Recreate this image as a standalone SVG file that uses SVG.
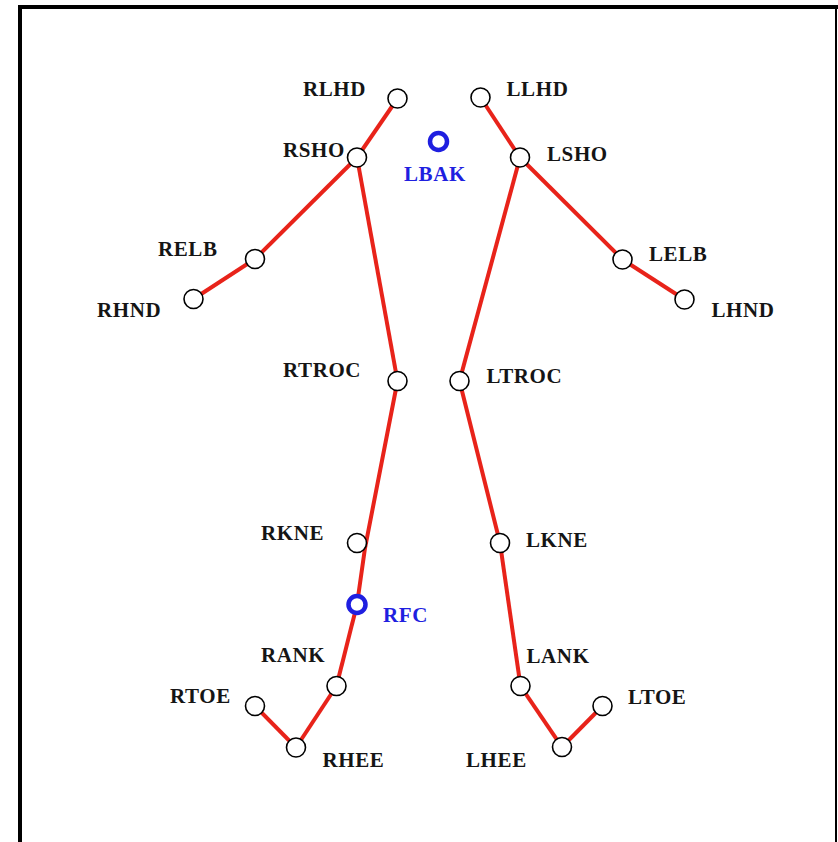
<svg xmlns="http://www.w3.org/2000/svg" width="838" height="842" viewBox="0 0 838 842">
<style>
.lbl{font-family:"Liberation Serif","Times New Roman",serif;font-weight:bold;font-size:21px;letter-spacing:0.6px;fill:#151515}
.blue{fill:#1f1fe0}
.j{fill:#fff;stroke:#000;stroke-width:1.6}
.m{fill:#fff;stroke:#1f1fe0;stroke-width:4.5}
.bone{stroke:#e8231a;stroke-width:4;stroke-linecap:butt;fill:none}
.frame{stroke:#000;fill:none}
</style>
<rect width="838" height="842" fill="#fff"/>
<g id="frame">
<line class="frame" x1="20" y1="7" x2="838" y2="7" stroke-width="4"/>
<line class="frame" x1="20" y1="5" x2="20" y2="842" stroke-width="4"/>
<line class="frame" x1="836" y1="7" x2="836" y2="842" stroke-width="2"/>
</g>
<g id="connectors">
<line class="bone" x1="397.5" y1="98.5" x2="357" y2="157.5"/>
<line class="bone" x1="357" y1="157.5" x2="255" y2="259"/>
<line class="bone" x1="255" y1="259" x2="193.5" y2="299"/>
<line class="bone" x1="357" y1="157.5" x2="397.5" y2="381"/>
<polyline class="bone" points="397.5,381 365,548 357,604.5"/>
<line class="bone" x1="357" y1="604.5" x2="336.5" y2="686"/>
<line class="bone" x1="336.5" y1="686" x2="296" y2="747.5"/>
<line class="bone" x1="296" y1="747.5" x2="255" y2="706"/>
<line class="bone" x1="480.5" y1="97.5" x2="520" y2="157.5"/>
<line class="bone" x1="520" y1="157.5" x2="622.5" y2="259.5"/>
<line class="bone" x1="622.5" y1="259.5" x2="684.5" y2="299.5"/>
<line class="bone" x1="520" y1="157.5" x2="459.5" y2="381"/>
<line class="bone" x1="459.5" y1="381" x2="500" y2="543"/>
<line class="bone" x1="500" y1="543" x2="520.5" y2="686"/>
<line class="bone" x1="520.5" y1="686" x2="562" y2="747"/>
<line class="bone" x1="562" y1="747" x2="602.5" y2="706"/>
</g>
<g id="RLHD"><circle class="j" cx="397.5" cy="98.5" r="9.5"/><text class="lbl" x="303" y="95.5">RLHD</text></g>
<g id="LLHD"><circle class="j" cx="480.5" cy="97.5" r="9.5"/><text class="lbl" x="506.5" y="96">LLHD</text></g>
<g id="RSHO"><circle class="j" cx="357" cy="157.5" r="9.5"/><text class="lbl" x="283" y="157">RSHO</text></g>
<g id="LSHO"><circle class="j" cx="520" cy="157.5" r="9.5"/><text class="lbl" x="547" y="161">LSHO</text></g>
<g id="LBAK"><circle class="m" cx="438.5" cy="141.5" r="8.5"/><text class="lbl blue" x="404" y="181">LBAK</text></g>
<g id="RELB"><circle class="j" cx="255" cy="259" r="9.5"/><text class="lbl" x="158" y="256">RELB</text></g>
<g id="RHND"><circle class="j" cx="193.5" cy="299" r="9.5"/><text class="lbl" x="97" y="317">RHND</text></g>
<g id="LELB"><circle class="j" cx="622.5" cy="259.5" r="9.5"/><text class="lbl" x="649" y="261">LELB</text></g>
<g id="LHND"><circle class="j" cx="684.5" cy="299.5" r="9.5"/><text class="lbl" x="711.5" y="317">LHND</text></g>
<g id="RTROC"><circle class="j" cx="397.5" cy="381" r="9.5"/><text class="lbl" x="283" y="377">RTROC</text></g>
<g id="LTROC"><circle class="j" cx="459.5" cy="381" r="9.5"/><text class="lbl" x="486.5" y="382.5">LTROC</text></g>
<g id="RKNE"><circle class="j" cx="357" cy="543" r="9.5"/><text class="lbl" x="261" y="540">RKNE</text></g>
<g id="LKNE"><circle class="j" cx="500" cy="543" r="9.5"/><text class="lbl" x="526" y="547">LKNE</text></g>
<g id="RFC"><circle class="m" cx="357" cy="604.5" r="8.5"/><text class="lbl blue" x="383" y="621.5">RFC</text></g>
<g id="RANK"><circle class="j" cx="336.5" cy="686" r="9.5"/><text class="lbl" x="261" y="662">RANK</text></g>
<g id="LANK"><circle class="j" cx="520.5" cy="686" r="9.5"/><text class="lbl" x="526.5" y="663">LANK</text></g>
<g id="RTOE"><circle class="j" cx="255" cy="706" r="9.5"/><text class="lbl" x="170" y="703">RTOE</text></g>
<g id="RHEE"><circle class="j" cx="296" cy="747.5" r="9.5"/><text class="lbl" x="322.5" y="767">RHEE</text></g>
<g id="LTOE"><circle class="j" cx="602.5" cy="706" r="9.5"/><text class="lbl" x="628" y="704">LTOE</text></g>
<g id="LHEE"><circle class="j" cx="562" cy="747" r="9.5"/><text class="lbl" x="466" y="767">LHEE</text></g>
</svg>
